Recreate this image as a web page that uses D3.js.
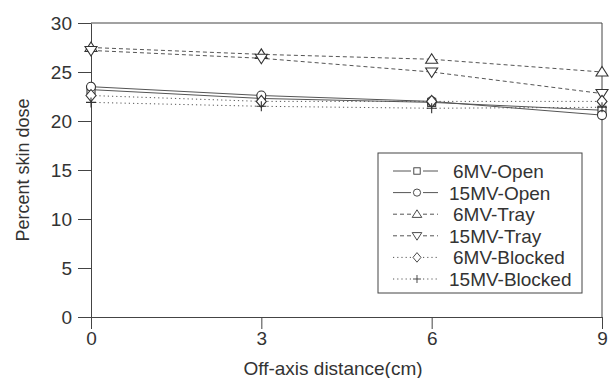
<!DOCTYPE html>
<html>
<head>
<meta charset="utf-8">
<script src="https://cdn.jsdelivr.net/npm/d3@7"></script>
<style>
  body { margin: 0; background: #fff; }
  svg text { font-family: "Liberation Sans", Arial, sans-serif; fill: #333; }
</style>
</head>
<body>
<svg id="chart" width="611" height="378"></svg>
<script>
// data
var distances = [0, 3, 6, 9];
var xTicks = [0, 3, 6, 9];
var yTicks = [0, 5, 10, 15, 20, 25, 30];

var open6 = [23.2, 22.3, 21.9, 21.1];
var open15 = [23.5, 22.6, 22.0, 20.6];
var tray6 = [27.5, 26.8, 26.3, 25.0];
var tray15 = [27.2, 26.4, 25.0, 22.8];
var blocked6 = [22.6, 22.0, 22.0, 22.0];
var blocked15 = [21.9, 21.5, 21.3, 21.4];

var seriesNames = ['6MV-Open', '15MV-Open', '6MV-Tray', '15MV-Tray', '6MV-Blocked', '15MV-Blocked'];

var series = [
  {name: seriesNames[0], values: open6, symbol: 'square', dash: null},
  {name: seriesNames[1], values: open15, symbol: 'circle', dash: null},
  {name: seriesNames[2], values: tray6, symbol: 'up', dash: '4,3'},
  {name: seriesNames[3], values: tray15, symbol: 'down', dash: '4,3'},
  {name: seriesNames[4], values: blocked6, symbol: 'diamond', dash: '1.2,3'},
  {name: seriesNames[5], values: blocked15, symbol: 'plus', dash: '1.2,3'}
];

var margin = {top: 23, right: 9, bottom: 61, left: 91};
var width = 611 - margin.left - margin.right;
var height = 378 - margin.top - margin.bottom;

var x = d3.scaleLinear().domain([0, 9]).range([0, width]);
var y = d3.scaleLinear().domain([0, 30]).range([height, 0]);

var svg = d3.select('#chart')
  .append('g')
  .attr('transform', 'translate(' + margin.left + ',' + margin.top + ')');

// frame top / right
svg.append('path')
  .attr('d', 'M0,0H' + width + 'V' + height)
  .attr('fill', 'none')
  .attr('stroke', '#444')
  .attr('stroke-width', 1);

var xAxis = svg.append('g')
  .attr('transform', 'translate(0,' + height + ')')
  .call(d3.axisBottom(x).tickValues(xTicks).tickSize(12).tickSizeOuter(0).tickPadding(3));

var yAxis = svg.append('g')
  .call(d3.axisLeft(y).tickValues(yTicks).tickSize(13).tickSizeOuter(0).tickPadding(6));

[xAxis, yAxis].forEach(a => {
  a.selectAll('path, line').attr('stroke', '#444');
  a.selectAll('text').attr('font-size', 19).attr('fill', '#333')
    .attr('font-family', '"Liberation Sans", Arial, sans-serif');
});

svg.append('text')
  .attr('x', 333 - margin.left)
  .attr('y', height + 58)
  .attr('text-anchor', 'middle')
  .attr('font-size', 19)
  .text('Off-axis distance(cm)');

svg.append('text')
  .attr('transform', 'translate(' + (29 - margin.left) + ',' + (height / 2) + ') rotate(-90)')
  .attr('text-anchor', 'middle')
  .attr('font-size', 18)
  .text('Percent skin dose');

function drawSymbol(g, kind, cx, cy)
{
  var s = 4;
  var p;
  if (kind === 'square') p = g.append('rect').attr('x', cx - s).attr('y', cy - s).attr('width', 2 * s).attr('height', 2 * s);
  else if (kind === 'circle') p = g.append('circle').attr('cx', cx).attr('cy', cy).attr('r', s + 0.5);
  else if (kind === 'up') p = g.append('path').attr('d', 'M' + cx + ',' + (cy - 5.5) + 'L' + (cx + 6) + ',' + (cy + 4) + 'L' + (cx - 6) + ',' + (cy + 4) + 'Z');
  else if (kind === 'down') p = g.append('path').attr('d', 'M' + cx + ',' + (cy + 5.5) + 'L' + (cx + 6) + ',' + (cy - 4) + 'L' + (cx - 6) + ',' + (cy - 4) + 'Z');
  else if (kind === 'diamond') p = g.append('path').attr('d', 'M' + cx + ',' + (cy - 6) + 'L' + (cx + 5) + ',' + cy + 'L' + cx + ',' + (cy + 6) + 'L' + (cx - 5) + ',' + cy + 'Z');
  else p = g.append('path').attr('d', 'M' + (cx - 5) + ',' + cy + 'H' + (cx + 5) + 'M' + cx + ',' + (cy - 5) + 'V' + (cy + 5));
  p.attr('fill', kind === 'plus' ? 'none' : '#fff').attr('stroke', '#333').attr('stroke-width', 1.1);
}

var line = d3.line().x((d, i) => x(distances[i])).y(d => y(d));

series.forEach(s => {
  svg.append('path')
    .datum(s.values)
    .attr('d', line)
    .attr('fill', 'none')
    .attr('stroke', '#555')
    .attr('stroke-width', 1)
    .attr('stroke-dasharray', s.dash);
});

series.forEach(s => {
  var g = svg.append('g');
  s.values.forEach((v, i) => drawSymbol(g, s.symbol, x(distances[i]), y(v)));
});

// legend
var lg = svg.append('g').attr('transform', 'translate(' + (378 - margin.left) + ',' + (153 - margin.top) + ')');
lg.append('rect')
  .attr('width', 204).attr('height', 140)
  .attr('fill', '#fff').attr('stroke', '#444').attr('stroke-width', 1);

series.forEach((s, i) => {
  var cy = 18 + i * 21.6;
  [[15, 33], [45, 60]].forEach(seg => {
    lg.append('line')
      .attr('x1', seg[0]).attr('x2', seg[1]).attr('y1', cy).attr('y2', cy)
      .attr('stroke', '#555').attr('stroke-width', 1)
      .attr('stroke-dasharray', s.dash);
  });
  var g = lg.append('g').attr('transform', 'translate(39,' + cy + ') scale(0.8) translate(-39,' + (-cy) + ')');
  drawSymbol(g, s.symbol, 39, cy);
  lg.append('text')
    .attr('x', s.name.indexOf('15') === 0 ? 71 : 75)
    .attr('y', cy + 7)
    .attr('font-size', 19)
    .text(s.name);
});
</script>
</body>
</html>
